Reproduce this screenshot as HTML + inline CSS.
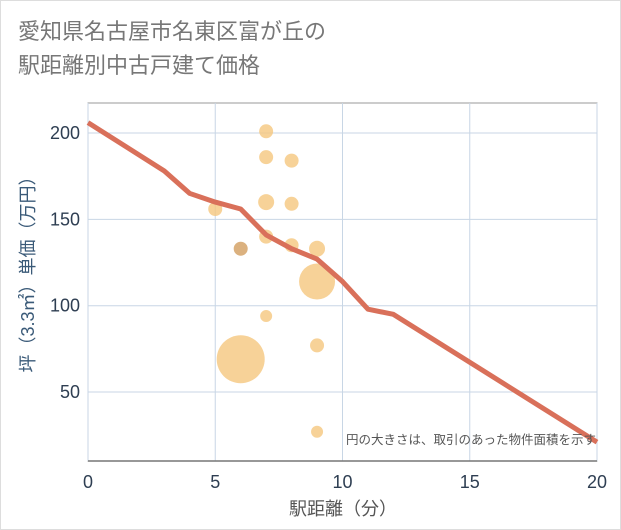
<!DOCTYPE html>
<html><head><meta charset="utf-8"><style>
body{margin:0;background:#fff;}
#wrap{position:relative;width:619px;height:528px;border:1px solid #ddd;background:#fff;font-family:"Liberation Sans","Noto Sans CJK JP",sans-serif;}
#title{position:absolute;left:17px;top:14px;font-size:22px;line-height:34px;color:#777;}
svg{position:absolute;left:-1px;top:-1px;}
</style></head><body>
<div id="wrap">
<div id="title">愛知県名古屋市名東区富が丘の<br>駅距離別中古戸建て価格</div>
<svg id="chart" width="621" height="530"></svg>
</div>
<script>
const xTicks=[0,5,10,15,20];
const yTicks=[50,100,150,200];
const lineX=[0,3,4,5,6,7,8,9,10,11,12,20];
const lineY=[206,178,165,160,156,141,133,127,114,98,95,21];
const bubX=[7,7,8,5,7,8,7,8,6,9,9,7,6,9,9];
const bubY=[201,186,184,156,160,159,140,135,133,133,114,94,69,77,27];
const bubR=[7,7,7,7,8,7,7,7,7,8,18,6,24,7,6];
const L=88,R=597,T=103,B=461;
const sx=v=>L+(v-0)/20*(R-L);
const sy=v=>133+(200-v)*1.727;
const svg=document.getElementById('chart');
const NS='http://www.w3.org/2000/svg';
function mk(t,a){const e=document.createElementNS(NS,t);for(const k in a)e.setAttribute(k,a[k]);svg.appendChild(e);return e;}
let e=mk('rect',{x:L,y:T,width:R-L,height:B-T,fill:'#fff',stroke:'#999','stroke-width':1});


xTicks.forEach(t=>{
 let g=mk('line',{x1:sx(t),x2:sx(t),y1:T,y2:B,stroke:'#c8d6e5'});
 
 
 let l=mk('text',{x:sx(t),y:488,'text-anchor':'middle','font-size':18,fill:'#2e3e52'});l.textContent=t;
 
 
});
yTicks.forEach(t=>{
 let g=mk('line',{x1:L,x2:R,y1:sy(t),y2:sy(t),stroke:'#c8d6e5'});
 
 
 let l=mk('text',{x:80,y:sy(t)+6,'text-anchor':'end','font-size':18,fill:'#2e3e52'});l.textContent=t;
 
 
});
let ax=mk('line',{x1:L,x2:R,y1:B,y2:B,stroke:'#777','stroke-width':1.5});


bubX.forEach((x,i)=>{
 let dark=(x===6&&bubY[i]===133);
 let c=mk('circle',{cx:sx(x),cy:sy(bubY[i]),r:bubR[i],fill:dark?'#d9ad78':'#f5c77e','fill-opacity':dark?0.95:0.8});
 
 
});
let pts=lineX.map((x,i)=>sx(x)+','+sy(lineY[i])).join(' ');
let pl=mk('polyline',{points:pts,fill:'none',stroke:'#d9705a','stroke-width':5,'stroke-linejoin':'round'});


let n=mk('text',{x:596,y:444,'text-anchor':'end','font-size':12.5,fill:'#555'});n.textContent='円の大きさは、取引のあった物件面積を示す';


let xt=mk('text',{x:343,y:515,'text-anchor':'middle','font-size':18,fill:'#555'});xt.textContent='駅距離（分）';


let yt=mk('text',{x:0,y:0,'text-anchor':'middle','font-size':18,fill:'#3a5a78',transform:'translate(34,270) rotate(-90)'});yt.textContent='坪（3.3㎡）単価（万円）';


</script>
</body></html>
